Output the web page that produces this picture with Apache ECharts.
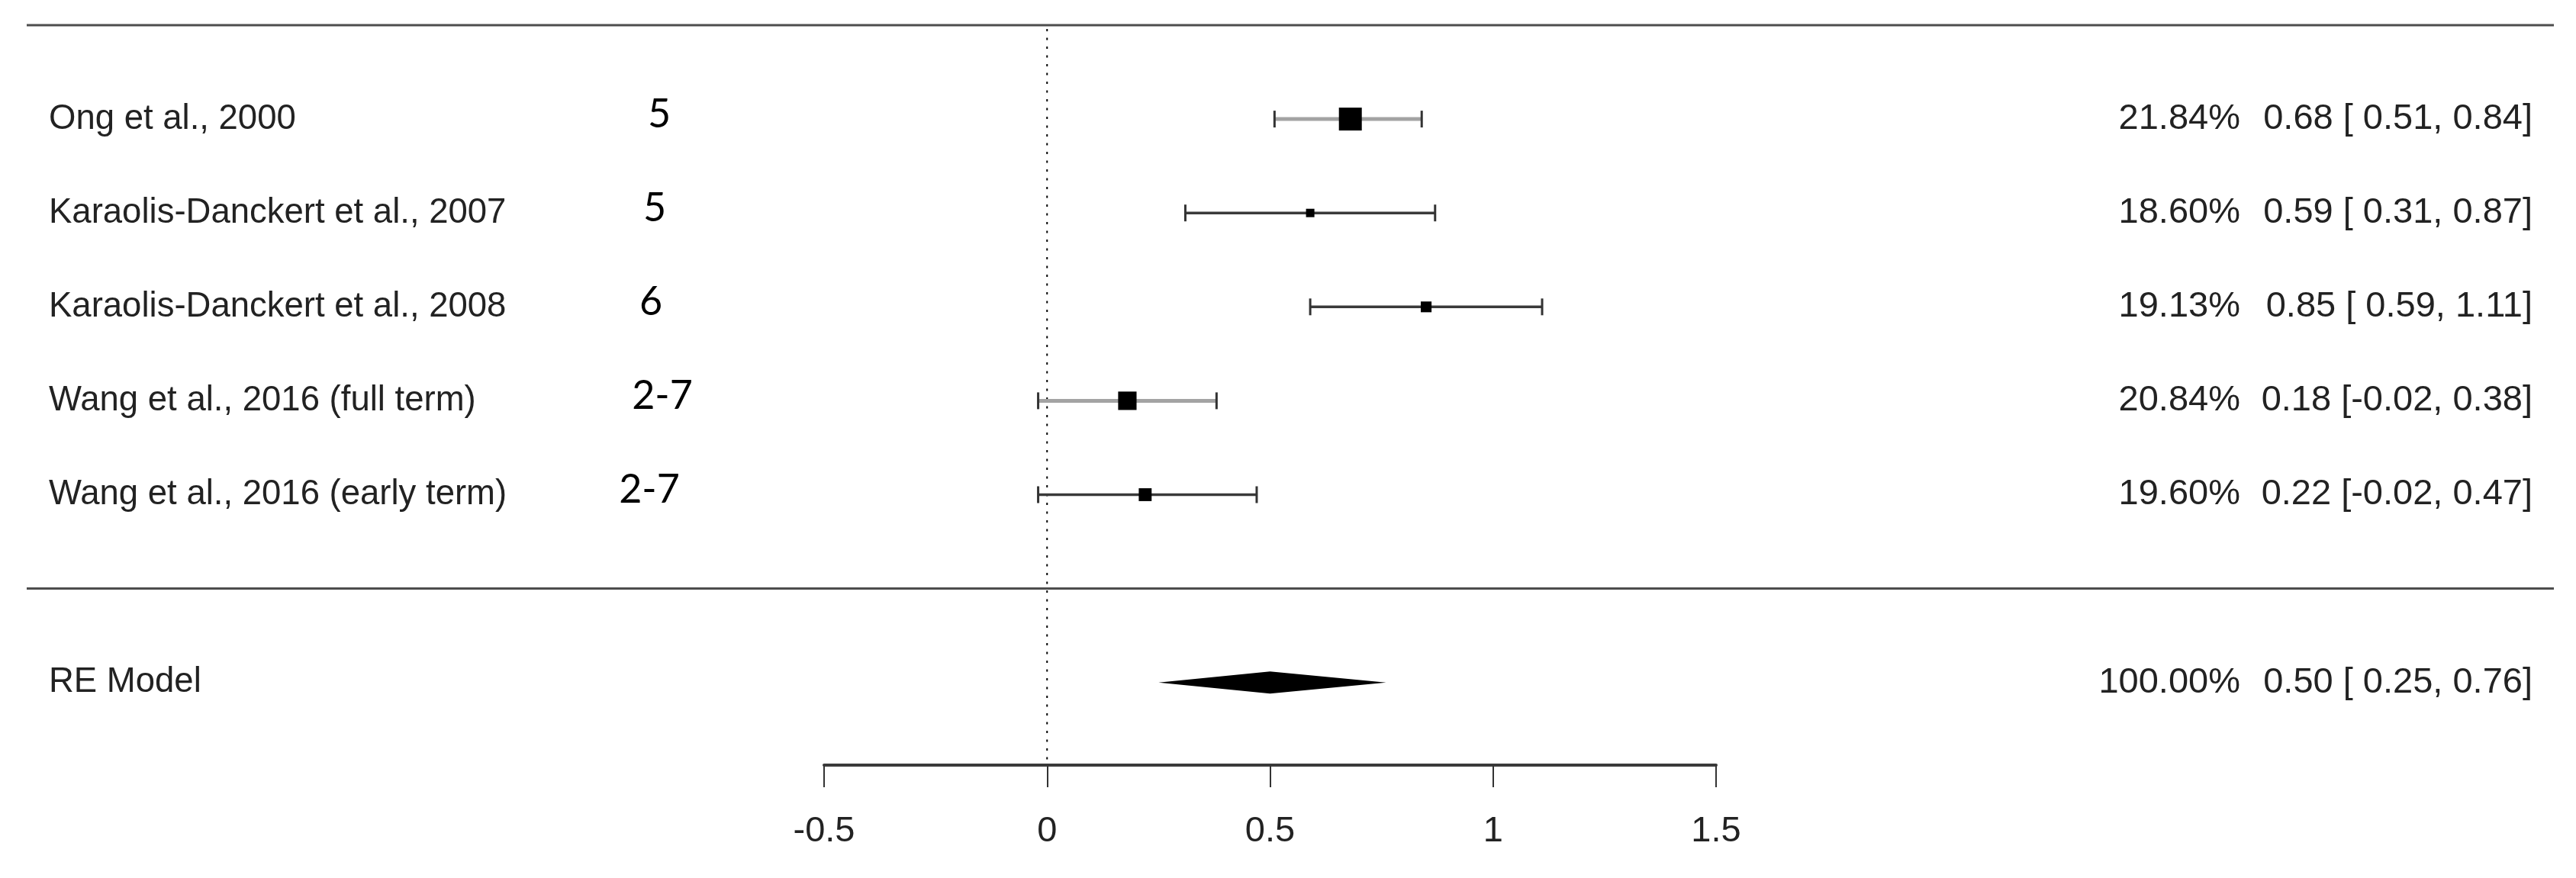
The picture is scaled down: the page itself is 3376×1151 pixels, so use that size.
<!DOCTYPE html>
<html>
<head>
<meta charset="utf-8">
<script src="https://cdn.jsdelivr.net/npm/echarts@6/dist/echarts.min.js"></script>
<style>
  html, body { margin: 0; padding: 0; background: #fff; }
  #forest { width: 3376px; height: 1151px; }
</style>
</head>
<body>
<div id="forest"></div>
<script>
// ---- data ----
var studies   = ['Ong et al., 2000', 'Karaolis-Danckert et al., 2007', 'Karaolis-Danckert et al., 2008',
                 'Wang et al., 2016 (full term)', 'Wang et al., 2016 (early term)'];
var ages      = ['5', '5', '6', '2-7', '2-7'];
var weights   = [21.84, 18.60, 19.13, 20.84, 19.60];
var estimates = [0.68, 0.59, 0.85, 0.18, 0.22];
var lowers    = [0.51, 0.31, 0.59, -0.02, -0.02];
var uppers    = [0.84, 0.87, 1.11, 0.38, 0.47];

// pooled random-effects model
var reLabel    = 'RE Model';
var reWeight   = 100.00;
var reEstimate = 0.50;
var reLower    = 0.25;
var reUpper    = 0.76;

// axis ticks
var xTicks = [-0.5, 0, 0.5, 1, 1.5];

// ---- layout / style ----
var FONT = 'Liberation Sans, Arial, sans-serif';
var TXT = '#222';
var labelX = 64, weightRight = 2936, ciRight = 3319;
var ageX = [864, 858, 853, 868, 851];        // hand-placed column in the original
var ruleLeft = 35, ruleRight = 3347;
var ciColors = ['#a3a3a3', '#3a3a3a', '#3a3a3a', '#a3a3a3', '#3a3a3a'];
var ciWidths = [5, 3.5, 3.5, 5, 3.5];
var minBox = 11, maxBox = 30;

function f2(v) { return v.toFixed(2); }
function padPos(v) { return (v >= 0 ? ' ' : '') + f2(v); }
function ciText(e, l, u) { return f2(e) + ' [' + padPos(l) + ', ' + f2(u) + ']'; }

var wMin = Math.min.apply(null, weights), wMax = Math.max.apply(null, weights);

// rows: studies 1..5, separator 6, RE model 7
var studyData = studies.map(function (s, i) {
  return [estimates[i], i + 1, lowers[i], uppers[i], weights[i], i];
});

var textRows = studies.map(function (s, i) {
  return { row: i + 1, label: s, age: ages[i], ageIdx: i,
           w: f2(weights[i]) + '%', ci: ciText(estimates[i], lowers[i], uppers[i]) };
});
textRows.push({ row: 7, label: reLabel, age: '', ageIdx: -1,
                w: f2(reWeight) + '%', ci: ciText(reEstimate, reLower, reUpper) });

var chart = echarts.init(document.getElementById('forest'));

chart.setOption({
  animation: false,
  grid: { left: 1080, right: 1127, top: 33, height: 970 },
  xAxis: {
    type: 'value', min: -0.5, max: 1.5, interval: 0.5, position: 'bottom',
    axisLine: { show: true, onZero: false, lineStyle: { color: '#3a3a3a', width: 4 } },
    axisTick: { show: true, length: 29, lineStyle: { color: '#333', width: 2 } },
    splitLine: { show: false },
    axisLabel: {
      margin: 64, fontSize: 47, fontFamily: FONT, color: TXT,
      formatter: function (v) { return xTicks.indexOf(v) > -1 ? String(v) : ''; }
    }
  },
  yAxis: { type: 'value', inverse: true, min: 0, max: 7.88, show: false },
  series: [
    {
      // dotted reference line at 0
      type: 'line', symbol: 'none', silent: true,
      data: [[0, 0.04], [0, 7.88]],
      lineStyle: { color: '#000', width: 2, type: [3, 8.5] },
      z: 1
    },
    {
      // top rule and separator above the model row
      type: 'custom', silent: true,
      data: [[0, 0], [0, 6]],
      renderItem: function (params, api) {
        var y = api.coord([0, api.value(1)])[1];
        return { type: 'line', shape: { x1: ruleLeft, y1: y, x2: ruleRight, y2: y },
                 style: { stroke: '#4d4d4d', lineWidth: 3 } };
      }
    },
    {
      // confidence intervals and weighted squares
      type: 'custom', silent: true,
      data: studyData,
      renderItem: function (params, api) {
        var i = api.value(5);
        var c = api.coord([api.value(0), api.value(1)]);
        var lo = api.coord([api.value(2), api.value(1)]);
        var hi = api.coord([api.value(3), api.value(1)]);
        var s = minBox + (api.value(4) - wMin) / (wMax - wMin) * (maxBox - minBox);
        var capH = 11;
        return { type: 'group', children: [
          { type: 'line', shape: { x1: lo[0], y1: c[1], x2: hi[0], y2: c[1] },
            style: { stroke: ciColors[i], lineWidth: ciWidths[i] } },
          { type: 'line', shape: { x1: lo[0], y1: c[1] - capH, x2: lo[0], y2: c[1] + capH },
            style: { stroke: '#333', lineWidth: 3 } },
          { type: 'line', shape: { x1: hi[0], y1: c[1] - capH, x2: hi[0], y2: c[1] + capH },
            style: { stroke: '#333', lineWidth: 3 } },
          { type: 'rect', shape: { x: c[0] - s / 2, y: c[1] - s / 2, width: s, height: s },
            style: { fill: '#000' } }
        ] };
      },
      z: 3
    },
    {
      // summary diamond
      type: 'custom', silent: true,
      data: [[reEstimate, 7, reLower, reUpper]],
      renderItem: function (params, api) {
        var c = api.coord([api.value(0), api.value(1)]);
        var lo = api.coord([api.value(2), api.value(1)]);
        var hi = api.coord([api.value(3), api.value(1)]);
        var h = 14.5;
        return { type: 'polygon',
                 shape: { points: [[lo[0], c[1]], [c[0], c[1] - h], [hi[0], c[1]], [c[0], c[1] + h]] },
                 style: { fill: '#000' } };
      },
      z: 3
    },
    {
      // text columns
      type: 'custom', silent: true,
      data: textRows.map(function (r, k) { return [0, r.row, k]; }),
      renderItem: function (params, api) {
        var r = textRows[api.value(2)];
        var y = api.coord([0, api.value(1)])[1];
        var kids = [
          { type: 'text', x: labelX, y: y,
            style: { text: r.label, fontSize: 45.5, fontFamily: FONT, fill: TXT, align: 'left', verticalAlign: 'middle' } },
          { type: 'text', x: weightRight, y: y,
            style: { text: r.w, fontSize: 47, fontFamily: FONT, fill: TXT, align: 'right', verticalAlign: 'middle' } },
          { type: 'text', x: ciRight, y: y,
            style: { text: r.ci, fontSize: 47, fontFamily: FONT, fill: TXT, align: 'right', verticalAlign: 'middle' } }
        ];
        if (r.ageIdx > -1) {
          kids.push({ type: 'text', x: ageX[r.ageIdx], y: y - 6,
            style: { text: r.age, fontSize: 52, fontFamily: 'Lato, Open Sans, sans-serif', fill: '#000',
                     align: 'center', verticalAlign: 'middle' } });
        }
        return { type: 'group', children: kids };
      }
    }
  ]
});
</script>
</body>
</html>
